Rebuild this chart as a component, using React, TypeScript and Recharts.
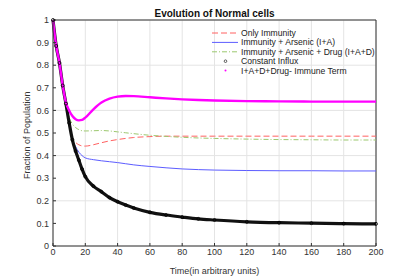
import React from "react";
import {
  LineChart,
  Line,
  XAxis,
  YAxis,
  CartesianGrid,
  ReferenceLine,
} from "recharts";

const TIME = [0, 2, 4, 6, 8, 10, 12, 14, 16, 18, 20, 25, 30, 35, 40, 45, 50, 60, 70, 80, 90, 100, 120, 140, 160, 180, 200];

const ONLY_IMMUNITY = [1, 0.885, 0.81, 0.71, 0.63, 0.545, 0.475, 0.458, 0.448, 0.443, 0.442, 0.448, 0.457, 0.465, 0.471, 0.476, 0.48, 0.484, 0.486, 0.486, 0.486, 0.486, 0.486, 0.486, 0.486, 0.486, 0.486];
const IMMUNITY_ARSENIC = [1, 0.885, 0.81, 0.71, 0.63, 0.545, 0.47, 0.44, 0.415, 0.4, 0.39, 0.382, 0.377, 0.373, 0.369, 0.364, 0.359, 0.352, 0.346, 0.341, 0.338, 0.336, 0.334, 0.333, 0.333, 0.332, 0.332];
const IMMUNITY_ARSENIC_DRUG = [1, 0.885, 0.81, 0.71, 0.632, 0.57, 0.54, 0.524, 0.515, 0.51, 0.509, 0.51, 0.511, 0.509, 0.505, 0.501, 0.497, 0.49, 0.485, 0.481, 0.478, 0.476, 0.473, 0.471, 0.47, 0.469, 0.469];
const CONSTANT_INFLUX = [1, 0.885, 0.81, 0.71, 0.63, 0.545, 0.47, 0.42, 0.38, 0.34, 0.307, 0.265, 0.24, 0.214, 0.196, 0.181, 0.168, 0.149, 0.137, 0.128, 0.12, 0.115, 0.107, 0.103, 0.101, 0.099, 0.098];
const DRUG_IMMUNE_TERM = [1, 0.885, 0.81, 0.71, 0.635, 0.6, 0.575, 0.561, 0.556, 0.558, 0.568, 0.605, 0.635, 0.652, 0.661, 0.664, 0.663, 0.658, 0.653, 0.649, 0.646, 0.644, 0.641, 0.64, 0.639, 0.639, 0.639];

const X_TICKS = [0, 20, 40, 60, 80, 100, 120, 140, 160, 180, 200];
const Y_TICKS = [0, 0.1, 0.2, 0.3, 0.4, 0.5, 0.6, 0.7, 0.8, 0.9, 1];

const data = TIME.map((t, i) => ({
  t,
  only: ONLY_IMMUNITY[i],
  ia: IMMUNITY_ARSENIC[i],
  iad: IMMUNITY_ARSENIC_DRUG[i],
  influx: CONSTANT_INFLUX[i],
  term: DRUG_IMMUNE_TERM[i],
}));

const FONT = "'Liberation Sans', Arial, sans-serif";

const legendItems = [
  { name: "Only Immunity", kind: "line", color: "#ff6161", dash: "6 3" },
  { name: "Immunity + Arsenic (I+A)", kind: "line", color: "#5c5cff", dash: "" },
  { name: "Immunity + Arsenic + Drug (I+A+D)", kind: "line", color: "#9cc86e", dash: "5 2 1 2" },
  { name: "Constant Influx", kind: "circle", color: "#000", dash: "" },
  { name: "I+A+D+Drug- Immune Term", kind: "dot", color: "#ff00ff", dash: "" },
];

function LegendBox() {
  return (
    <svg width={180} height={50} style={{ position: "absolute", left: 210, top: 28 }}>
      {legendItems.map((it, i) => {
        const y = 5 + i * 9.4;
        return (
          <g key={it.name}>
            {it.kind === "line" && (
              <line x1={2} x2={28} y1={y} y2={y} stroke={it.color} strokeWidth={1} strokeDasharray={it.dash} />
            )}
            {it.kind === "circle" && (
              <circle cx={15.5} cy={y} r={1.3} fill="none" stroke="#333" strokeWidth={0.8} />
            )}
            {it.kind === "dot" && <circle cx={15.5} cy={y} r={1} fill={it.color} />}
            <text x={31} y={y + 3} fontSize={8.6} fill="#222" fontFamily={FONT}>
              {it.name}
            </text>
          </g>
        );
      })}
    </svg>
  );
}

const InfluxDot = (props: any) => {
  const { cx, cy, index } = props;
  return <circle key={`d-${index}`} cx={cx} cy={cy} r={1.5} fill="none" stroke="#000" strokeWidth={0.8} />;
};

export default function App() {
  return (
    <div style={{ position: "relative", width: 415, height: 277, background: "#fff", fontFamily: FONT }}>
      <style>{"body{margin:0}"}</style>
      <LineChart width={415} height={277} data={data} margin={{ top: 20, right: 39, left: 0, bottom: 0 }}>
        <CartesianGrid stroke="#e4e4e4" strokeWidth={1} />
        <XAxis
          dataKey="t"
          type="number"
          domain={[0, 200]}
          ticks={X_TICKS}
          height={31}
          tickSize={-3}
          tickLine={{ stroke: "#333" }}
          axisLine={{ stroke: "#333" }}
          tick={{ fontSize: 9, fill: "#333", fontFamily: FONT }}
          tickMargin={6}
          label={{ value: "Time(in arbitrary units)", position: "insideBottom", offset: 3, fontSize: 9, fill: "#333", fontFamily: FONT }}
        />
        <YAxis
          type="number"
          domain={[0, 1]}
          ticks={Y_TICKS}
          width={53}
          tickSize={-3}
          tickLine={{ stroke: "#333" }}
          axisLine={{ stroke: "#333" }}
          tick={{ fontSize: 9, fill: "#333", fontFamily: FONT }}
          tickMargin={7}
          label={{ value: "Fraction of Population", angle: -90, position: "insideLeft", offset: 27, dy: 46, fontSize: 9, fill: "#333", fontFamily: FONT }}
        />
        <ReferenceLine x={200} stroke="#333" />
        <ReferenceLine y={1} stroke="#333" />
        <Line dataKey="only" type="monotone" stroke="#ff6161" strokeWidth={1} strokeDasharray="6 3" dot={false} isAnimationActive={false} />
        <Line dataKey="ia" type="monotone" stroke="#5c5cff" strokeWidth={1} dot={false} isAnimationActive={false} />
        <Line dataKey="iad" type="monotone" stroke="#9cc86e" strokeWidth={1} strokeDasharray="5 2 1 2" dot={false} isAnimationActive={false} />
        <Line dataKey="influx" type="monotone" stroke="#111" strokeWidth={3.2} dot={InfluxDot} isAnimationActive={false} />
        <Line dataKey="term" type="monotone" stroke="#ff00ff" strokeWidth={2.4} dot={false} isAnimationActive={false} />
      </LineChart>
      <div
        style={{
          position: "absolute",
          top: 8,
          left: 53,
          width: 323,
          textAlign: "center",
          fontSize: 10,
          fontWeight: "bold",
          color: "#111",
        }}
      >
        Evolution of Normal cells
      </div>
      <LegendBox />
    </div>
  );
}
